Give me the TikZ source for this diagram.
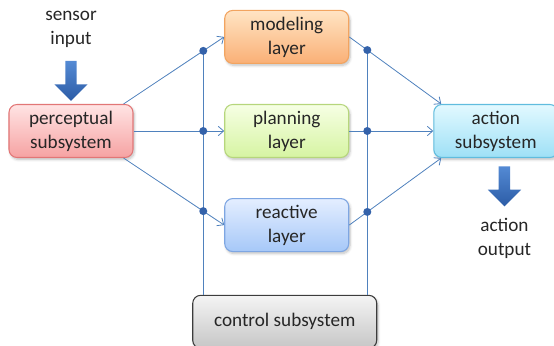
\documentclass[tikz,border=0pt]{standalone}
\usepackage{fontspec}
\setmainfont{Carlito}
\usetikzlibrary{arrows.meta,positioning,shapes.arrows,shadows.blur,calc}

\definecolor{linkblue}{RGB}{79,129,189}
\definecolor{dotblue}{RGB}{52,98,170}
\definecolor{percline}{RGB}{226,118,118}
\definecolor{perctop}{RGB}{255,228,228}
\definecolor{percbot}{RGB}{246,162,162}
\definecolor{modline}{RGB}{242,164,96}
\definecolor{modtop}{RGB}{255,228,196}
\definecolor{modbot}{RGB}{250,176,118}
\definecolor{planline}{RGB}{182,214,124}
\definecolor{plantop}{RGB}{246,255,228}
\definecolor{planbot}{RGB}{214,244,162}
\definecolor{reacline}{RGB}{126,166,226}
\definecolor{reactop}{RGB}{228,238,255}
\definecolor{reacbot}{RGB}{166,200,248}
\definecolor{actline}{RGB}{96,188,222}
\definecolor{acttop}{RGB}{226,249,255}
\definecolor{actbot}{RGB}{158,224,246}
\definecolor{ctrlline}{RGB}{60,60,60}
\definecolor{ctrltop}{RGB}{244,244,244}
\definecolor{ctrlbot}{RGB}{198,198,198}
\definecolor{arrowtop}{RGB}{84,138,212}
\definecolor{arrowbot}{RGB}{44,92,166}

\begin{document}
\begin{tikzpicture}[
    x=0.75pt, y=0.75pt,
    node distance=30pt,
    >={Straight Barb[length=4pt,width=7pt]},
    every node/.style={font=\fontsize{14.4}{18}\selectfont, text=black!85},
    block/.style={
        rectangle,
        rounded corners=6pt,
        align=center,
        minimum width=93pt,
        minimum height=39.75pt,
        inner sep=2pt,
        line width=0.8pt,
        blur shadow={shadow xshift=1pt, shadow yshift=-1.5pt,
            shadow opacity=25, shadow blur steps=6}
    },
    percbox/.style={block, draw=percline, top color=perctop, bottom color=percbot},
    modbox/.style={block, draw=modline, top color=modtop, bottom color=modbot},
    planbox/.style={block, draw=planline, top color=plantop, bottom color=planbot},
    reacbox/.style={block, draw=reacline, top color=reactop, bottom color=reacbot},
    actbox/.style={block, draw=actline, top color=acttop, bottom color=actbot},
    ctrlbox/.style={block, draw=ctrlline, top color=ctrltop, bottom color=ctrlbot,
        minimum width=138pt},
    link/.style={->, draw=linkblue, line width=0.6pt},
    bus/.style={draw=linkblue, line width=0.6pt},
    dot/.style={circle, fill=dotblue, inner sep=0pt, minimum size=6pt},
    bigarrow/.style={
        single arrow,
        shape border rotate=270,
        draw=none,
        top color=arrowtop,
        bottom color=arrowbot,
        minimum height=30pt,
        minimum width=25pt,
        single arrow head extend=8pt,
        inner sep=4pt
    },
    lbl/.style={align=center}
]
\useasboundingbox (-71,-215) rectangle (483,131);

\node[percbox] (perceptual) at (0,0) {perceptual\\subsystem};
\node[planbox, right=68pt of perceptual] (planning) {planning\\layer};
\node[modbox, above=of planning] (modeling) {modeling\\layer};
\node[reacbox, below=of planning] (reactive) {reactive\\layer};
\node[actbox, right=63pt of planning] (action) {action\\subsystem};
\node[ctrlbox, below=32pt of reactive, xshift=-1.5pt] (control) {control subsystem};

\node[bigarrow, above=2pt of perceptual] (sensorarrow) {};
\node[lbl, above=6pt of sensorarrow] (sensorlabel) {sensor\\input};
\node[bigarrow, below=6pt of action, xshift=6.5pt] (outarrow) {};
\node[lbl, below=5pt of outarrow] (outlabel) {action\\output};

% ends of the slanted links
\coordinate (pne) at ([xshift=-7.5pt]perceptual.north east);
\coordinate (pse) at ([xshift=-7.5pt]perceptual.south east);
\coordinate (anw) at ([xshift=6pt]action.north west);
\coordinate (asw) at ([xshift=6pt]action.south west);
\coordinate (ltop) at ($(pne)!.792!(modeling.west)$);
\coordinate (rtop) at ($(modeling.east)!.196!(anw)$);

\draw[link] (pne) -- (modeling.west);
\draw[link] (perceptual) -- (planning);
\draw[link] (pse) -- (reactive.west);
\draw[link] (modeling.east) -- (anw);
\draw[link] (planning) -- (action);
\draw[link] (reactive.east) -- (asw);

% control buses
\draw[bus] (ltop) -- (ltop |- control.north);
\draw[bus] (rtop) -- (rtop |- control.north);

\node[dot] (ldot1) at (ltop) {};
\node[dot] (ldot2) at (ltop |- planning) {};
\node[dot] (ldot3) at ($(pse)!.792!(reactive.west)$) {};
\node[dot] (rdot1) at (rtop) {};
\node[dot] (rdot2) at (rtop |- planning) {};
\node[dot] (rdot3) at ($(reactive.east)!.196!(asw)$) {};

\end{tikzpicture}
\end{document}
